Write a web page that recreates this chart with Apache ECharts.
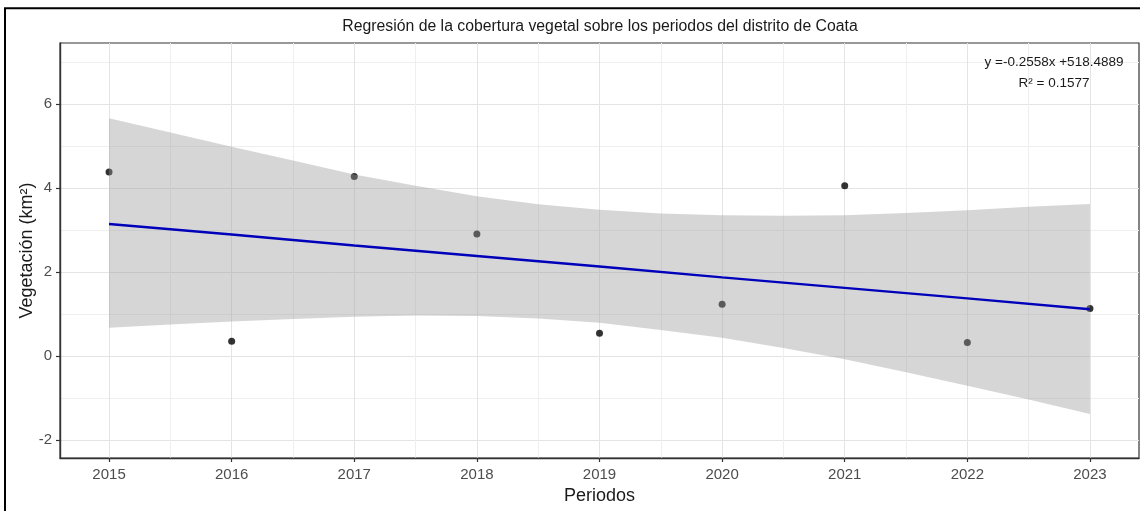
<!DOCTYPE html>
<html>
<head>
<meta charset="utf-8">
<title>Regresión de la cobertura vegetal – Coata</title>
<script src="https://cdn.jsdelivr.net/npm/echarts@6/dist/echarts.min.js"></script>
<style>
  html, body { margin: 0; padding: 0; background: #ffffff; }
  #chart { width: 1140px; height: 511px; }
</style>
</head>
<body>
<div id="chart"></div>
<script>
// Observed vegetation cover per period (km²)
const years = [2015, 2016, 2017, 2018, 2019, 2020, 2021, 2022, 2023];
const vegetation = [4.38, 0.35, 4.27, 2.90, 0.54, 1.23, 4.05, 0.32, 1.13];

// Fitted regression line at each period
const fitted = [3.14, 2.89, 2.63, 2.38, 2.13, 1.87, 1.62, 1.37, 1.11];

// 95% confidence band of the fit
const bandYears = [2015, 2015.5, 2016, 2016.5, 2017, 2017.5, 2018, 2018.5, 2019,
                   2019.5, 2020, 2020.5, 2021, 2021.5, 2022, 2022.5, 2023];
const bandUpper = [5.66, 5.32, 4.98, 4.65, 4.32, 4.05, 3.80, 3.61, 3.48,
                   3.39, 3.35, 3.34, 3.35, 3.40, 3.47, 3.55, 3.62];
const bandLower = [0.67, 0.75, 0.82, 0.88, 0.93, 0.96, 0.95, 0.89, 0.79,
                   0.62, 0.43, 0.19, -0.08, -0.39, -0.71, -1.04, -1.38];

// Axis breaks
const xTicks = [2015, 2016, 2017, 2018, 2019, 2020, 2021, 2022, 2023];
const xMinor = [2015.5, 2016.5, 2017.5, 2018.5, 2019.5, 2020.5, 2021.5, 2022.5];
const yTicks = [-2, 0, 2, 4, 6];
const yMinor = [-1, 1, 3, 5, 7];

// Texts
const titleText = 'Regresión de la cobertura vegetal sobre los periodos del distrito de Coata';
const equationText = 'y =-0.2558x +518.4889';
const r2Text = 'R² = 0.1577';
const xName = 'Periodos';
const yName = 'Vegetación (km²)';

const FONT = '"Liberation Sans", Arial, Helvetica, sans-serif';
const X_RANGE = [2014.6, 2023.4];
const Y_RANGE = [-2.43, 7.45];

const chart = echarts.init(document.getElementById('chart'), null, { renderer: 'canvas' });

const majorGrid = { show: true, lineStyle: { color: '#e4e4e4', width: 1, type: 'solid' } };
const minorGrid = { show: true, lineStyle: { color: '#efefef', width: 1, type: 'solid' } };

const option = {
  animation: false,
  backgroundColor: '#ffffff',
  textStyle: { fontFamily: FONT },
  grid: {
    left: 60, right: 1, top: 43, bottom: 53,
    show: true, borderColor: '#333333', borderWidth: 1.2, backgroundColor: 'transparent'
  },
  xAxis: [
    {
      type: 'value', min: X_RANGE[0], max: X_RANGE[1], position: 'bottom',
      axisLine: { show: true, onZero: false, lineStyle: { color: '#333333', width: 1.4 } },
      axisTick: { show: true, length: 4, customValues: xTicks, lineStyle: { color: '#333333', width: 1.2 } },
      axisLabel: {
        customValues: xTicks, color: '#4d4d4d', fontSize: 15, margin: 9, fontFamily: FONT,
        formatter: v => String(v)
      },
      splitLine: majorGrid,
      name: xName, nameLocation: 'middle', nameGap: 29, nameMoveOverlap: false,
      nameTextStyle: { fontSize: 18, color: '#1a1a1a', fontFamily: FONT }
    },
    {
      type: 'value', min: X_RANGE[0], max: X_RANGE[1], position: 'bottom',
      axisLine: { show: false, onZero: false },
      axisTick: { show: false, customValues: xMinor },
      axisLabel: { show: false, customValues: xMinor },
      splitLine: minorGrid
    }
  ],
  yAxis: [
    {
      type: 'value', min: Y_RANGE[0], max: Y_RANGE[1], position: 'left',
      axisLine: { show: true, onZero: false, lineStyle: { color: '#333333', width: 1.4 } },
      axisTick: { show: true, length: 4, customValues: yTicks, lineStyle: { color: '#333333', width: 1.2 } },
      axisLabel: {
        customValues: yTicks, color: '#4d4d4d', fontSize: 15, margin: 8, fontFamily: FONT,
        formatter: v => String(v)
      },
      splitLine: majorGrid,
      name: yName, nameLocation: 'middle', nameGap: 24, nameRotate: 90, nameMoveOverlap: false,
      nameTextStyle: { fontSize: 18, color: '#1a1a1a', fontFamily: FONT }
    },
    {
      type: 'value', min: Y_RANGE[0], max: Y_RANGE[1], position: 'left',
      axisLine: { show: false, onZero: false },
      axisTick: { show: false, customValues: yMinor },
      axisLabel: { show: false, customValues: yMinor },
      splitLine: minorGrid
    }
  ],
  series: [
    {
      name: 'Observado',
      type: 'scatter',
      xAxisIndex: 0, yAxisIndex: 0,
      z: 2,
      symbol: 'circle',
      symbolSize: 7,
      itemStyle: { color: '#000000' },
      data: years.map((y, i) => [y, vegetation[i]])
    },
    {
      name: 'Intervalo de confianza',
      type: 'custom',
      xAxisIndex: 0, yAxisIndex: 0,
      z: 3,
      silent: true,
      data: bandYears.map((y, i) => [y, bandLower[i], bandUpper[i]]),
      encode: { x: 0, y: [1, 2] },
      renderItem: function (params, api) {
        if (params.dataIndex !== 0) return { type: 'group', children: [] };
        const top = bandYears.map((y, i) => api.coord([y, bandUpper[i]]));
        const bottom = bandYears.map((y, i) => api.coord([y, bandLower[i]])).reverse();
        return {
          type: 'polygon',
          shape: { points: top.concat(bottom) },
          style: { fill: 'rgba(153,153,153,0.4)', stroke: null }
        };
      }
    },
    {
      name: 'Ajuste lineal',
      type: 'line',
      xAxisIndex: 0, yAxisIndex: 0,
      z: 4,
      showSymbol: false,
      silent: true,
      lineStyle: { color: '#0000bb', width: 2.4 },
      data: years.map((y, i) => [y, fitted[i]])
    }
  ],
  graphic: [
    {
      type: 'rect', silent: true, z: 100,
      shape: { x: 5, y: 8.3, width: 1160, height: 540 },
      style: { fill: 'none', stroke: '#000000', lineWidth: 2 }
    },
    {
      type: 'text', silent: true, z: 100, x: 600, y: 27,
      style: { text: titleText, fill: '#1a1a1a', font: '15.8px ' + FONT, textAlign: 'center', textVerticalAlign: 'middle' }
    },
    {
      type: 'text', silent: true, z: 100, x: 1054, y: 62,
      style: { text: equationText, fill: '#1a1a1a', font: '13.5px ' + FONT, textAlign: 'center', textVerticalAlign: 'middle' }
    },
    {
      type: 'text', silent: true, z: 100, x: 1054, y: 83,
      style: { text: r2Text, fill: '#1a1a1a', font: '13.5px ' + FONT, textAlign: 'center', textVerticalAlign: 'middle' }
    }
  ]
};

chart.setOption(option);
</script>
</body>
</html>
